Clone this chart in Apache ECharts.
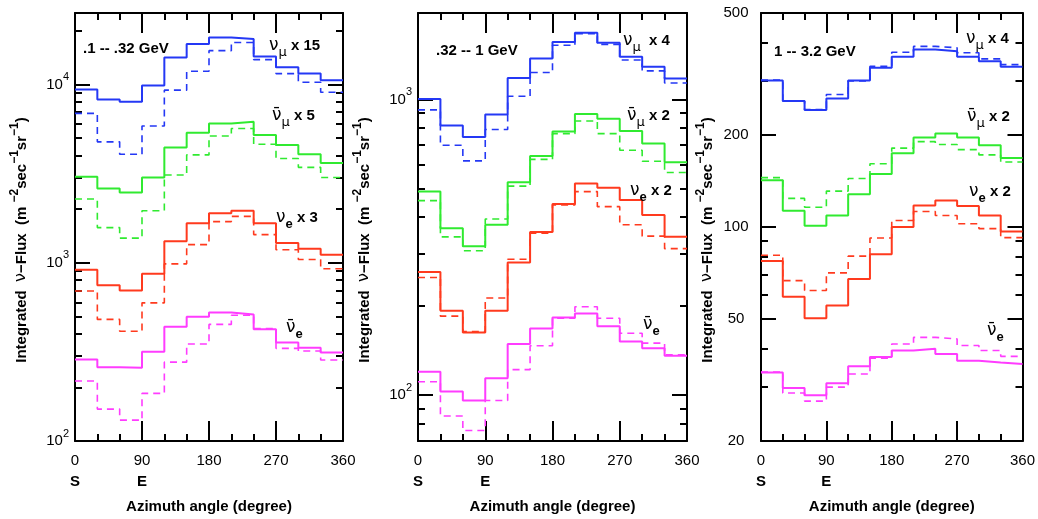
<!DOCTYPE html>
<html><head><meta charset="utf-8">
<script src="https://cdn.jsdelivr.net/npm/echarts@6/dist/echarts.min.js"></script>
<style>html,body{margin:0;padding:0;background:#fff}#c{width:1038px;height:519px}</style>
</head><body><div id="c"></div>
<script>
// ---- data ----
const binEdges = [0,30,60,90,120,150,180,210,240,270,300,330,360];
const xMajorTicks = [0,90,180,270,360];
const dirLabels = {0:'S', 90:'E'};

// Panel 1: .1 -- .32 GeV
const p1NumuSolid     = [9380, 8250, 8000, 9870, 14200, 16900, 18350, 18000, 14380, 12490, 11520, 10570];
const p1NumuDashed    = [6890, 4770, 4060, 5850, 9300, 11870, 15490, 17220, 13800, 11520, 10300, 9060];
const p1NumubarSolid  = [3035, 2610, 2480, 3010, 4430, 5370, 6050, 6190, 5210, 4580, 4060, 3625];
const p1NumubarDashed = [2280, 1575, 1375, 1960, 3110, 4030, 5140, 5670, 4625, 3845, 3430, 3010];
const p1NueSolid      = [914, 747, 700, 869, 1321, 1667, 1897, 1960, 1667, 1290, 1200, 1110];
const p1NueDashed     = [695, 481, 413, 596, 986, 1265, 1702, 1822, 1439, 1183, 1043, 925];
const p1NuebarSolid   = [287, 259, 258, 317, 437, 498, 526, 513, 423, 357, 334, 314];
const p1NuebarDashed  = [217, 151, 131, 185, 277, 350, 451, 508, 428, 331, 320, 285];

// Panel 2: .32 -- 1 GeV
const p2NumuSolid     = [1004, 817, 747, 889, 1181, 1375, 1563, 1682, 1556, 1393, 1289, 1178];
const p2NumuDashed    = [922, 700, 620, 791, 1025, 1233, 1524, 1668, 1535, 1360, 1249, 1136];
const p2NumubarSolid  = [488, 367, 319, 377, 525, 644, 779, 893, 860, 782, 709, 613];
const p2NumubarDashed = [455, 343, 308, 394, 509, 627, 766, 845, 766, 673, 618, 566];
const p2NueSolid      = [261, 193, 163, 193, 281, 356, 443, 520, 503, 457, 407, 343];
const p2NueDashed     = [250, 185, 164, 213, 288, 353, 440, 488, 434, 377, 345, 313];
const p2NuebarSolid   = [120, 103, 96, 114, 149, 168, 183, 189, 171, 152, 144, 136];
const p2NuebarDashed  = [111, 85, 76, 96, 122, 147, 182, 199, 182, 162, 150, 137];

// Panel 3: 1 -- 3.2 GeV
const p3NumuSolid     = [301, 258, 241, 263, 301, 331, 360, 380, 375, 360, 348, 334];
const p3NumuDashed    = [302, 258, 242, 271, 300, 335, 372, 389, 385, 371, 354, 339];
const p3NumubarSolid  = [142, 113, 101, 109, 128, 149, 174, 196, 202, 196, 185, 168];
const p3NumubarDashed = [145, 124, 116, 131, 144, 161, 181, 190, 186, 179, 172, 163];
const p3NueSolid      = [77.5, 59.2, 50.3, 55.4, 67.6, 81.4, 100, 117.6, 122, 117, 109, 96.7];
const p3NueDashed     = [80.9, 66.8, 62, 70.8, 80.3, 92.1, 105, 112.4, 109, 102.5, 98.8, 92.3];
const p3NuebarSolid   = [33.5, 29.8, 28.2, 30.9, 35.1, 37.6, 39.5, 40, 38.5, 36.6, 36.1, 35.7];
const p3NuebarDashed  = [33.6, 28.7, 27, 30, 33.1, 37.3, 41.5, 43.6, 43.1, 41, 39.5, 37.8];

// y-axis ranges and ticks
const p1YRange = [100, 25200];
const p1YMajor = [100, 1000, 10000];
const p1YMinor = [200,300,400,500,600,700,800,900,2000,3000,4000,5000,6000,7000,8000,9000,20000];
const p2YRange = [70, 1960];
const p2YMajor = [100, 1000];
const p2YMinor = [80,90,200,300,400,500,600,700,800,900];
const p3YRange = [20, 500];
const p3YMajor = [20, 50, 100, 200, 500];
const p3YMinor = [30,40,60,70,80,90,300,400];

const panelTitles = ['.1 -- .32 GeV', '.32 -- 1 GeV', '1 -- 3.2 GeV'];

// ---- styling ----
const FONT = 'Liberation Sans';
const COLORS = {numu:'#2438f5', numubar:'#30ea30', nue:'#ff3a1e', nuebar:'#ff3cff'};
const grids = [
  {left:75, top:13, width:268, height:430},
  {left:418, top:13, width:269, height:430},
  {left:761, top:13, width:269, height:430}
];

function stepData(vals){
  return binEdges.map((x,i)=>[x, vals[Math.min(i, vals.length-1)]]);
}

const panels = [
  {range:p1YRange, major:p1YMajor, minor:p1YMinor, pow:true, series:{
    numu:[p1NumuSolid,p1NumuDashed], numubar:[p1NumubarSolid,p1NumubarDashed],
    nue:[p1NueSolid,p1NueDashed], nuebar:[p1NuebarSolid,p1NuebarDashed]}},
  {range:p2YRange, major:p2YMajor, minor:p2YMinor, pow:true, series:{
    numu:[p2NumuSolid,p2NumuDashed], numubar:[p2NumubarSolid,p2NumubarDashed],
    nue:[p2NueSolid,p2NueDashed], nuebar:[p2NuebarSolid,p2NuebarDashed]}},
  {range:p3YRange, major:p3YMajor, minor:p3YMinor, pow:false, series:{
    numu:[p3NumuSolid,p3NumuDashed], numubar:[p3NumubarSolid,p3NumubarDashed],
    nue:[p3NueSolid,p3NueDashed], nuebar:[p3NuebarSolid,p3NuebarDashed]}}
];

const xAxes = [], yAxes = [], series = [];
const yNameText = '{t|Integrated  }{nu|ν}{t|−Flux  (m }{s|−2}{t|sec}{s|−1}{t|sr}{s|−1}{t|)}';
const yNameRich = {
  t:{fontSize:15, fontWeight:'bold', fontFamily:FONT, color:'#000', lineHeight:20, verticalAlign:'bottom'},
  nu:{fontSize:16, fontWeight:'normal', fontFamily:'DejaVu Sans', color:'#000', lineHeight:20, verticalAlign:'bottom'},
  s:{fontSize:12, fontWeight:'bold', fontFamily:FONT, color:'#000', lineHeight:12, verticalAlign:'top'}
};

panels.forEach((p, g) => {
  const lineStyle = {color:'#000', width:2};
  const xBase = {type:'value', gridIndex:g, min:0, max:360, splitLine:{show:false}};
  // x axes: bottom major, bottom minor, top major, top minor
  xAxes.push(Object.assign({}, xBase, {
    position:'bottom', interval:90,
    axisLine:{show:true, onZero:false, lineStyle},
    axisTick:{show:true, inside:true, length:20, lineStyle:{color:'#000', width:2}},
    axisLabel:{show:true, margin:10, fontSize:15, fontFamily:FONT, color:'#000', lineHeight:20,
      formatter: v => dirLabels[v] ? v + '\n{d|' + dirLabels[v] + '}' : String(v),
      rich:{d:{fontSize:15, fontWeight:'bold', fontFamily:FONT, color:'#000', lineHeight:22}}},
    name:'Azimuth angle (degree)', nameLocation:'middle', nameGap:58,
    nameTextStyle:{fontSize:15, fontWeight:'bold', fontFamily:FONT, color:'#000'}
  }));
  xAxes.push(Object.assign({}, xBase, {
    position:'bottom', interval:30,
    axisLine:{show:false, onZero:false}, axisLabel:{show:false},
    axisTick:{show:true, inside:true, length:7, lineStyle:{color:'#000', width:2}}
  }));
  xAxes.push(Object.assign({}, xBase, {
    position:'top', interval:90,
    axisLine:{show:true, onZero:false, lineStyle}, axisLabel:{show:false},
    axisTick:{show:true, inside:true, length:20, lineStyle:{color:'#000', width:2}}
  }));
  xAxes.push(Object.assign({}, xBase, {
    position:'top', interval:30,
    axisLine:{show:false, onZero:false}, axisLabel:{show:false},
    axisTick:{show:true, inside:true, length:7, lineStyle:{color:'#000', width:2}}
  }));
  const labelFmt = p.pow
    ? (v => '{b|10}{s|' + Math.round(Math.log10(v)) + '}')
    : (v => '{b|' + v + '}');
  const yBase = {type:'log', logBase:10, gridIndex:g, min:p.range[0], max:p.range[1], splitLine:{show:false}};
  // y axes: left major, left minor, right major, right minor
  yAxes.push(Object.assign({}, yBase, {
    position:'left',
    axisLine:{show:true, onZero:false, lineStyle},
    axisTick:{show:true, inside:true, length:15, customValues:p.major, lineStyle:{color:'#000', width:2}},
    axisLabel:{show:true, customValues:p.major, formatter:labelFmt,
      margin: p.pow ? 6 : 25, align: p.pow ? 'right' : 'center', color:'#000',
      rich:{b:{fontSize:15, fontFamily:FONT, color:'#000', lineHeight:26},
            s:{fontSize:11, fontFamily:FONT, color:'#000', lineHeight:11, verticalAlign:'top'}}},
    name:yNameText, nameLocation:'middle', nameGap:46,
    nameTextStyle:{rich:yNameRich, padding:[0,26,0,0]}
  }));
  yAxes.push(Object.assign({}, yBase, {
    position:'left',
    axisLine:{show:false, onZero:false}, axisLabel:{show:false},
    axisTick:{show:true, inside:true, length:7, customValues:p.minor, lineStyle:{color:'#000', width:2}}
  }));
  yAxes.push(Object.assign({}, yBase, {
    position:'right',
    axisLine:{show:true, onZero:false, lineStyle}, axisLabel:{show:false},
    axisTick:{show:true, inside:true, length:15, customValues:p.major, lineStyle:{color:'#000', width:2}}
  }));
  yAxes.push(Object.assign({}, yBase, {
    position:'right',
    axisLine:{show:false, onZero:false}, axisLabel:{show:false},
    axisTick:{show:true, inside:true, length:7, customValues:p.minor, lineStyle:{color:'#000', width:2}}
  }));
  ['nuebar','nue','numubar','numu'].forEach(k => {
    const [solid, dashed] = p.series[k];
    series.push({
      type:'line', step:'end', xAxisIndex:g*4, yAxisIndex:g*4, data:stepData(dashed),
      showSymbol:false, silent:true, lineStyle:{color:COLORS[k], width:1.6, type:[7,5]}, z:3
    });
    series.push({
      type:'line', step:'end', xAxisIndex:g*4, yAxisIndex:g*4, data:stepData(solid),
      showSymbol:false, silent:true, lineStyle:{color:COLORS[k], width:2}, z:4
    });
  });
});

// ---- annotations ----
const annRich = {
  nu:{fontSize:17, fontFamily:'DejaVu Sans', fill:'#000', lineHeight:26, verticalAlign:'middle'},
  mu:{fontSize:13, fontFamily:'DejaVu Sans', fill:'#000', lineHeight:13, verticalAlign:'bottom'},
  e:{fontSize:13, fontWeight:'bold', fontFamily:FONT, fill:'#000', lineHeight:14, verticalAlign:'bottom'},
  b:{fontSize:15, fontWeight:'bold', fontFamily:FONT, fill:'#000', lineHeight:26, verticalAlign:'middle'}
};
function ann(x, y, text){
  return {type:'text', x, y, z:10, style:{text, rich:annRich, verticalAlign:'middle', align:'left'}};
}
function title(x, y, text){
  return {type:'text', x, y, z:10, style:{text, font:'bold 15px "Liberation Sans"', fill:'#000', verticalAlign:'middle', align:'left'}};
}
const NU = '{nu|ν}', NUBAR = '{nu|ν\u0304}';
const graphics = [
  title(83, 49, panelTitles[0]),
  ann(269, 46, NU + '{mu|μ}{b| x 15}'),
  ann(272, 116, NUBAR + '{mu|μ}{b| x 5}'),
  ann(276, 218, NU + '{e|e}{b| x 3}'),
  ann(286, 328, NUBAR + '{e|e}'),
  title(436, 51, panelTitles[1]),
  ann(623, 41, NU + '{mu|μ}{b|  x 4}'),
  ann(627, 116, NUBAR + '{mu|μ}{b| x 2}'),
  ann(630, 191, NU + '{e|e}{b| x 2}'),
  ann(643, 325, NUBAR + '{e|e}'),
  title(774, 52, panelTitles[2]),
  ann(966, 39, NU + '{mu|μ}{b| x 4}'),
  ann(967, 117, NUBAR + '{mu|μ}{b| x 2}'),
  ann(969, 192, NU + '{e|e}{b| x 2}'),
  ann(987, 331, NUBAR + '{e|e}')
];

const chart = echarts.init(document.getElementById('c'), null, {renderer:'canvas'});
chart.setOption({
  animation:false,
  backgroundColor:'#fff',
  grid:grids,
  xAxis:xAxes,
  yAxis:yAxes,
  series,
  graphic:graphics
});
</script>
</body></html>
